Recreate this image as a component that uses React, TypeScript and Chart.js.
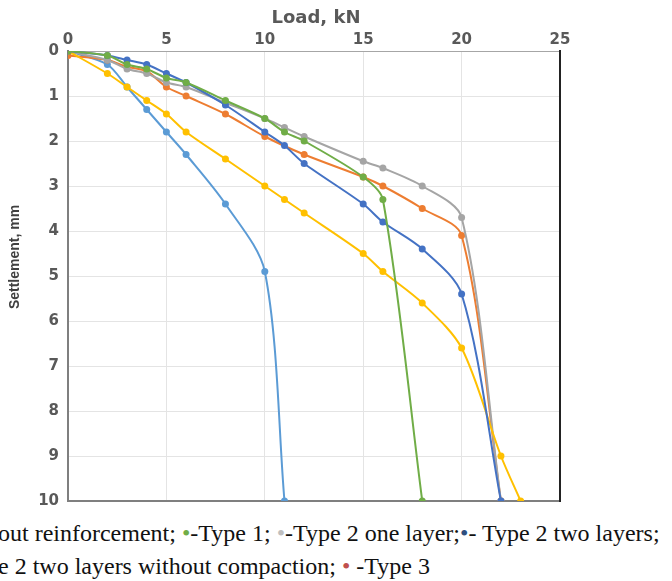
import React, { useEffect, useRef } from "react";
import { Chart, registerables } from "chart.js";
Chart.register(...registerables);

// Load (kN) and settlement (mm) per series
const woReinfLoad = [0, 2, 3, 4, 5, 6, 8, 10, 11];
const woReinfSettle = [0, 0.3, 0.8, 1.3, 1.8, 2.3, 3.4, 4.9, 10];

const type3Load = [0, 2, 3, 4, 5, 6, 8, 10, 12, 15, 16, 18, 20, 22];
const type3Settle = [0.1, 0.2, 0.35, 0.45, 0.8, 1.0, 1.4, 1.9, 2.3, 2.8, 3.0, 3.5, 4.1, 10];

const type2OneLoad = [0, 2, 3, 4, 5, 6, 8, 10, 11, 12, 15, 16, 18, 20, 22];
const type2OneSettle = [0, 0.2, 0.4, 0.5, 0.7, 0.8, 1.15, 1.5, 1.7, 1.9, 2.45, 2.6, 3.0, 3.7, 10];

const type2NoCompLoad = [0, 2, 3, 4, 5, 6, 8, 10, 11, 12, 15, 16, 18, 20, 22, 23];
const type2NoCompSettle = [0, 0.5, 0.8, 1.1, 1.4, 1.8, 2.4, 3.0, 3.3, 3.6, 4.5, 4.9, 5.6, 6.6, 9.0, 10];

const type2TwoLoad = [0, 2, 3, 4, 5, 6, 8, 10, 11, 12, 15, 16, 18, 20, 22];
const type2TwoSettle = [0, 0.1, 0.2, 0.3, 0.5, 0.7, 1.2, 1.8, 2.1, 2.5, 3.4, 3.8, 4.4, 5.4, 10];

const type1Load = [0, 2, 3, 4, 5, 6, 8, 10, 11, 12, 15, 16, 18];
const type1Settle = [0, 0.1, 0.3, 0.4, 0.6, 0.7, 1.1, 1.5, 1.8, 2.0, 2.8, 3.3, 10];

const seriesNames = [
  "Without reinforcement",
  "Type 3",
  "Type 2 one layer",
  "Type 2 two layers without compaction",
  "Type 2 two layers",
  "Type 1",
];
const seriesColors = ["#5B9BD5", "#ED7D31", "#A5A5A5", "#FFC000", "#4472C4", "#70AD47"];
const seriesLoads = [woReinfLoad, type3Load, type2OneLoad, type2NoCompLoad, type2TwoLoad, type1Load];
const seriesSettles = [woReinfSettle, type3Settle, type2OneSettle, type2NoCompSettle, type2TwoSettle, type1Settle];

const xTitle = "Load, kN";
const yTitle = "Settlement, mm";

const PLOT_LEFT = 68;
const PLOT_TOP = 51;
const PLOT_RIGHT = 560;
const PLOT_BOTTOM = 501;
const CANVAS_W = 672;
const CANVAS_H = 505;

const framePlugin = {
  id: "frame",
  beforeDatasetsDraw(chart: any) {
    const { ctx, chartArea: a } = chart;
    ctx.save();
    ctx.lineCap = "square";
    ctx.strokeStyle = "#a6a6a6";
    ctx.lineWidth = 1;
    ctx.beginPath();
    ctx.moveTo(a.left, a.top + 0.5);
    ctx.lineTo(a.right, a.top + 0.5);
    ctx.stroke();
    ctx.strokeStyle = "#7f7f7f";
    ctx.lineWidth = 2;
    ctx.beginPath();
    ctx.moveTo(a.left, a.top);
    ctx.lineTo(a.left, a.bottom);
    ctx.lineTo(a.right, a.bottom);
    ctx.stroke();
    ctx.strokeStyle = "#222222";
    ctx.beginPath();
    ctx.moveTo(a.right, a.top);
    ctx.lineTo(a.right, a.bottom);
    ctx.stroke();
    ctx.restore();
  },
  afterDraw(chart: any) {
    const { ctx, chartArea: a } = chart;
    ctx.save();
    ctx.fillStyle = "#595959";
    ctx.textAlign = "center";
    ctx.textBaseline = "middle";
    ctx.font = "bold 18px 'DejaVu Sans'";
    ctx.fillText(xTitle, (a.left + a.right) / 2 + 2, 18);
    ctx.fillStyle = "#404040";
    ctx.translate(15, 257);
    ctx.rotate(-Math.PI / 2);
    ctx.font = "bold 14px 'Liberation Sans Narrow', 'Liberation Sans', sans-serif";
    ctx.fillText(yTitle, 0, 0);
    ctx.restore();
  },
};

function ChartView() {
  const ref = useRef<HTMLCanvasElement | null>(null);
  useEffect(() => {
    if (!ref.current) return;
    const datasets = seriesNames.map((name, i) => ({
      label: name,
      data: seriesLoads[i].map((x, j) => ({ x, y: seriesSettles[i][j] })),
      borderColor: seriesColors[i],
      backgroundColor: seriesColors[i],
      showLine: true,
      borderWidth: 2,
      pointRadius: 3.5,
      pointBorderWidth: 0,
      pointHoverRadius: 3.5,
      tension: 0.3,
      order: seriesNames.length - i,
    }));
    const chart = new Chart(ref.current, {
      type: "scatter",
      data: { datasets },
      plugins: [framePlugin],
      options: {
        animation: false,
        responsive: false,
        maintainAspectRatio: false,
        layout: { padding: { left: 0, top: 0, right: CANVAS_W - PLOT_RIGHT, bottom: CANVAS_H - PLOT_BOTTOM } },
        plugins: { legend: { display: false }, tooltip: { enabled: false } },
        scales: {
          x: {
            type: "linear",
            position: "top",
            min: 0,
            max: 25,
            ticks: {
              stepSize: 5,
              padding: 2,
              color: "#595959",
              font: { family: "'DejaVu Sans'", weight: "bold", size: 15 },
            },
            grid: { color: "#e4e4e4", drawTicks: false, lineWidth: 1 },
            border: { display: false },
            afterFit(scale: any) {
              scale.height = PLOT_TOP;
              scale.paddingLeft = 0;
              scale.paddingRight = 0;
            },
          },
          y: {
            type: "linear",
            reverse: true,
            min: 0,
            max: 10,
            ticks: {
              stepSize: 1,
              padding: 9,
              color: "#595959",
              font: { family: "'DejaVu Sans'", weight: "bold", size: 15 },
            },
            grid: { color: "#e4e4e4", drawTicks: false, lineWidth: 1 },
            border: { display: false },
            afterFit(scale: any) {
              scale.width = PLOT_LEFT;
              scale.paddingTop = 0;
              scale.paddingBottom = 0;
            },
          },
        },
      } as any,
    });
    return () => chart.destroy();
  }, []);
  return <canvas ref={ref} width={CANVAS_W} height={CANVAS_H} style={{ display: "block", width: CANVAS_W, height: CANVAS_H }} />;
}

const dot = (color: string) => <span style={{ color }}>•</span>;

export default function App() {
  return (
    <div style={{ position: "absolute", left: 0, top: 0, width: CANVAS_W, height: 581, background: "#fff", overflow: "hidden" }}>
      <ChartView />
      <div
        style={{
          position: "absolute",
          left: -2,
          top: 517,
          whiteSpace: "nowrap",
          fontFamily: "'Liberation Serif', 'Times New Roman', serif",
          fontSize: 24,
          lineHeight: "33px",
          color: "#111",
        }}
      >
        <div>
          out reinforcement; {dot("#70AD47")}-Type 1; {dot("#BFBFBF")}-Type 2 one layer;{dot("#2F4F7F")}- Type 2 two layers;
        </div>
        <div>
          e 2 two layers without compaction; {dot("#C0504D")} -Type 3
        </div>
      </div>
    </div>
  );
}
